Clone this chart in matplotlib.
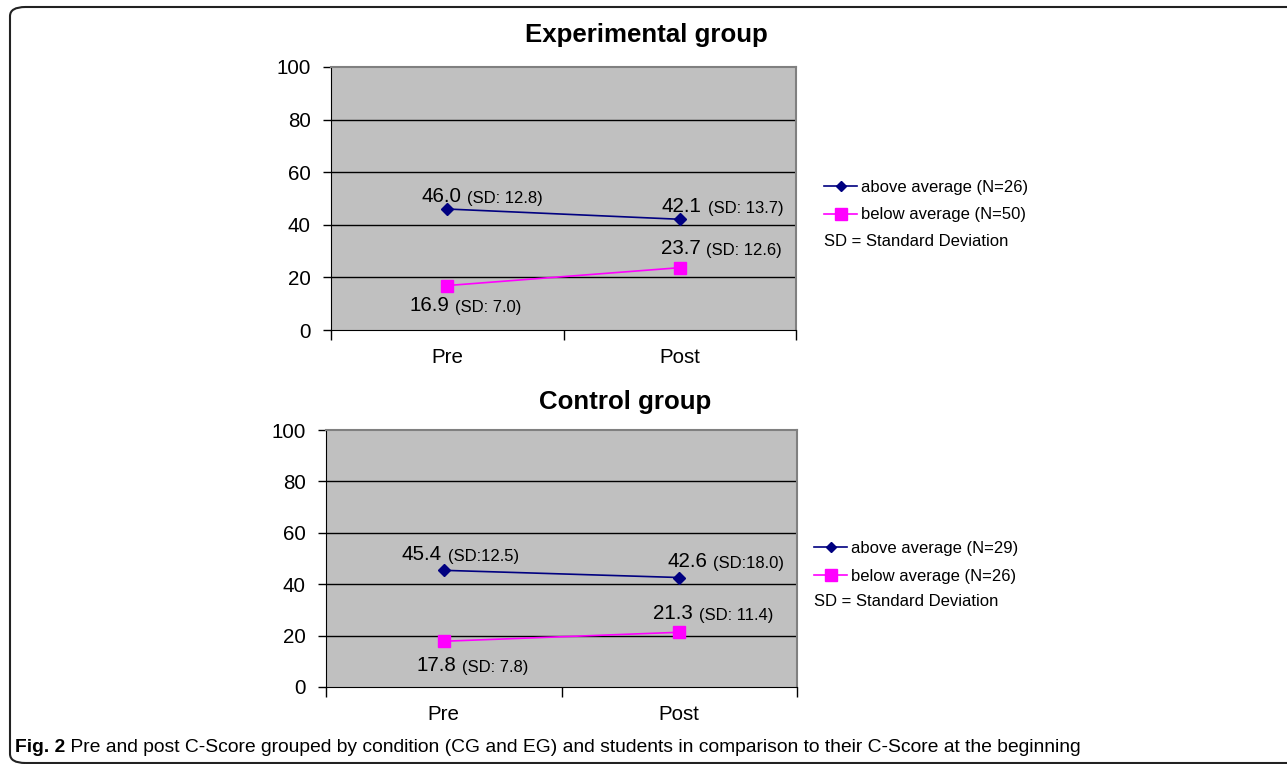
import matplotlib
matplotlib.use("Agg")
import matplotlib.pyplot as plt
from matplotlib.patches import FancyBboxPatch
from matplotlib.lines import Line2D

plt.rcParams['font.family'] = ['Liberation Sans', 'DejaVu Sans']

# data
phases = ['Pre', 'Post']
exp_above = [46.0, 42.1]
exp_below = [16.9, 23.7]
exp_above_sd = ['(SD: 12.8)', '(SD: 13.7)']
exp_below_sd = ['(SD: 7.0)', '(SD: 12.6)']
ctl_above = [45.4, 42.6]
ctl_below = [17.8, 21.3]
ctl_above_sd = ['(SD:12.5)', '(SD:18.0)']
ctl_below_sd = ['(SD: 7.8)', '(SD: 11.4)']
exp_labels = ['above average (N=26)', 'below average (N=50)']
ctl_labels = ['above average (N=29)', 'below average (N=26)']

# label offsets in pixels (number text left/baseline relative to point)
exp_above_off = [(-26, 7), (-18, 7)]
exp_below_off = [(-38, -25), (-19, 14)]
ctl_above_off = [(-42, 10), (-12, 11)]
ctl_below_off = [(-27, -30), (-26, 13)]

NAVY = '#000080'
PINK = '#FF00FF'

fig = plt.figure(figsize=(12.87, 7.64), dpi=100)

# rounded frame
frame = FancyBboxPatch((10 / 1287, 1 - 763 / 764), 1.2, (763 - 7) / 764,
                       boxstyle='round,pad=0,rounding_size=0.012',
                       transform=fig.transFigure, fill=False,
                       edgecolor='#222222', linewidth=1.5, clip_on=False)
fig.patches.append(frame)


def label_points(ax, xs, vals, sds, offs):
    for x, v, sd, (dx, dy) in zip(xs, vals, sds, offs):
        t = ax.annotate(f'{v:.1f}', xy=(x, v), xytext=(dx, dy),
                        textcoords='offset pixels', ha='left', va='baseline',
                        fontsize=14.8)
        ax.annotate(sd, xy=(1, 0), xycoords=t, xytext=(6, 0),
                    textcoords='offset pixels', ha='left', va='bottom',
                    fontsize=12)


def draw_panel(ax, above, below, above_sd, below_sd, aoff, boff):
    xs = [0.5, 1.5]
    ax.set_facecolor('#C0C0C0')
    ax.plot(xs, above, color=NAVY, lw=1.2, marker='D', ms=6, zorder=3)
    ax.plot(xs, below, color=PINK, lw=1.2, marker='s', ms=9, zorder=3)
    ax.set_xlim(0, 2)
    ax.set_ylim(0, 100)
    ax.set_yticks([0, 20, 40, 60, 80, 100])
    ax.tick_params(axis='y', labelsize=14.8, length=6, pad=8.5, width=1)
    ax.set_xticks([0, 1, 2])
    ax.set_xticklabels([])
    ax.set_xticks(xs, minor=True)
    ax.set_xticklabels(phases, minor=True)
    ax.tick_params(axis='x', which='major', length=7, direction='out', width=1)
    ax.tick_params(axis='x', which='minor', length=0, pad=13, labelsize=14.8)
    for y in [20, 40, 60, 80]:
        ax.axhline(y, color='black', lw=1, zorder=1)
    for side in ['top', 'right']:
        ax.spines[side].set_color('#808080')
        ax.spines[side].set_linewidth(1.5)
    ax.spines['left'].set_color('black')
    ax.spines['bottom'].set_color('black')
    label_points(ax, xs, above, above_sd, aoff)
    label_points(ax, xs, below, below_sd, boff)


ax1 = fig.add_axes([331 / 1287, 1 - 330 / 764, 465 / 1287, 263 / 764])
draw_panel(ax1, exp_above, exp_below, exp_above_sd, exp_below_sd,
           exp_above_off, exp_below_off)
ax2 = fig.add_axes([326 / 1287, 1 - 687 / 764, 471 / 1287, 257 / 764])
draw_panel(ax2, ctl_above, ctl_below, ctl_above_sd, ctl_below_sd,
           ctl_above_off, ctl_below_off)

fig.text(646 / 1287, 1 - 35 / 764, 'Experimental group', ha='center', va='center',
         fontsize=18.6, fontweight='bold')
fig.text(625 / 1287, 1 - 402 / 764, 'Control group', ha='center', va='center',
         fontsize=18.6, fontweight='bold')


def legend(labels, x, ytop):
    handles = [Line2D([], [], color=NAVY, lw=1.2, marker='D', ms=5),
               Line2D([], [], color=PINK, lw=1.2, marker='s', ms=8)]
    fig.legend(handles, labels, loc='upper left',
               bbox_to_anchor=(x / 1287, 1 - ytop / 764),
               frameon=False, fontsize=12, borderpad=0, borderaxespad=0,
               handlelength=2.0, handletextpad=0.2, labelspacing=0.75)
    fig.text(x / 1287, 1 - (ytop + 61) / 764, 'SD = Standard Deviation',
             ha='left', va='center', fontsize=12)


legend(exp_labels, 824, 180)
legend(ctl_labels, 814, 541)

# caption
cap = fig.text(15 / 1287, 1 - 747 / 764, 'Fig. 2', ha='left', va='center',
               fontsize=13.9, fontweight='bold')
fig.canvas.draw()
bb = cap.get_window_extent(fig.canvas.get_renderer())
fig.text(bb.x1 / 1287, 1 - 747 / 764,
         ' Pre and post C-Score grouped by condition (CG and EG) and students in '
         'comparison to their C-Score at the beginning',
         ha='left', va='center', fontsize=13.9)

fig.savefig('out.png', dpi=100)
